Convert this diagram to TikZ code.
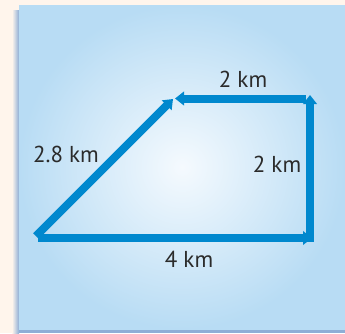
\documentclass[tikz,border=0pt]{standalone}
\usepackage{fontspec}
\setmainfont{PT Sans}
\usetikzlibrary{arrows.meta}
\definecolor{cream}{HTML}{FFF5EC}
\definecolor{shadowblue}{HTML}{8EAED6}
\definecolor{panelout}{HTML}{B8DCF4}
\definecolor{panelin}{HTML}{F5FAFE}
\definecolor{arrowblue}{HTML}{0088CE}
\definecolor{txt}{HTML}{2B2B2B}
\tikzset{
  leg/.style={draw=arrowblue, line width=8pt, -{Triangle[length=9pt,width=13.5pt]}},
  lbl/.style={text=txt, font=\fontsize{23}{26}\selectfont, inner sep=0pt, anchor=base}
}
\begin{document}
\begin{tikzpicture}[x=1pt,y=-1pt]
\useasboundingbox (0,0) rectangle (345,333);
\fill[cream] (0,0) rectangle (345,333);
\shade[left color=cream, right color=shadowblue] (12,10) rectangle (19,333);
\fill[shadowblue] (19,328) rectangle (345,333);
\shade[inner color=panelin, outer color=panelout] (19,5) rectangle (345,329);
\coordinate (A) at (38,238);
\coordinate (B) at (312,238);
\coordinate (E) at (310,98.5);
\coordinate (F) at (310,242);
\coordinate (G) at (306,98.5);
\coordinate (D) at (175,98.5);
\coordinate (H) at (36,236);
\coordinate (K) at (173,99);
\draw[leg, line cap=butt] (A) -- (B);
\draw[leg] (F) -- ([yshift=3.5]E);
\draw[leg] (G) -- (D);
\draw[leg] (H) -- (K);
\node[lbl] (t1) at (243,87) {2 km};
\node[lbl] (t2) at (277,172) {2 km};
\node[lbl] (t3) at (66,162) {2.8 km};
\node[lbl] (t4) at (189,267) {4 km};
\end{tikzpicture}
\end{document}
